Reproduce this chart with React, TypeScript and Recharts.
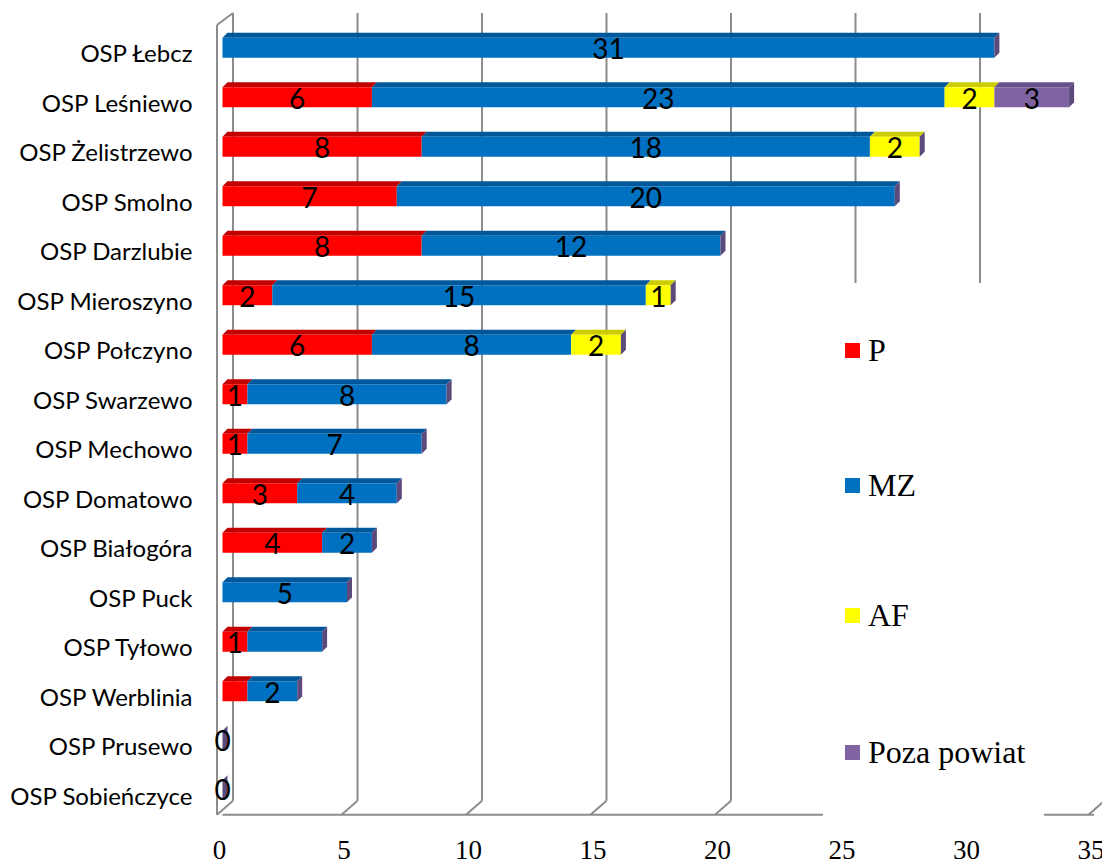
import { BarChart, Bar, XAxis, YAxis, CartesianGrid, LabelList, Legend } from 'recharts';

const categories = [
  'OSP Łebcz', 'OSP Leśniewo', 'OSP Żelistrzewo', 'OSP Smolno', 'OSP Darzlubie',
  'OSP Mieroszyno', 'OSP Połczyno', 'OSP Swarzewo', 'OSP Mechowo', 'OSP Domatowo',
  'OSP Białogóra', 'OSP Puck', 'OSP Tyłowo', 'OSP Werblinia', 'OSP Prusewo', 'OSP Sobieńczyce',
];
const pValues = [0, 6, 8, 7, 8, 2, 6, 1, 1, 3, 4, 0, 1, 1, 0, 0];
const mzValues = [31, 23, 18, 20, 12, 15, 8, 8, 7, 4, 2, 5, 3, 2, 0, 0];
const afValues = [0, 2, 2, 0, 0, 1, 2, 0, 0, 0, 0, 0, 0, 0, 0, 0];
const pozaValues = [0, 3, 0, 0, 0, 0, 0, 0, 0, 0, 0, 0, 0, 0, 0, 0];
const xTicks = [0, 5, 10, 15, 20, 25, 30, 35];
// labels that are not shown in the original
const hiddenLabels = [['OSP Tyłowo', 'MZ'], ['OSP Werblinia', 'P']];

const series = [
  { key: 'P', name: 'P', fill: '#FF0000', top: '#C20000' },
  { key: 'MZ', name: 'MZ', fill: '#0070C0', top: '#00579A' },
  { key: 'AF', name: 'AF', fill: '#FFFF00', top: '#CCCC00' },
  { key: 'Poza', name: 'Poza powiat', fill: '#8064A2', top: '#67518A' },
];

const data = categories.map((name, i) => ({
  name, P: pValues[i], MZ: mzValues[i], AF: afValues[i], Poza: pozaValues[i],
}));

const D = 5; // 3d depth
const SIDE = '#5B4A7B';
const GRID = '#8C8C8C';
const sans = 'Lato, "Open Sans", sans-serif';
const serif = '"Liberation Serif", "Times New Roman", serif';

function makeShape(top: string, withSide: boolean) {
  return (props: any) => {
    const { x, y, width, height, fill } = props;
    if (x == null || y == null) return <g />;
    const w = Math.max(0, width || 0);
    return (
      <g>
        <polygon points={`${x},${y} ${x + D},${y - D} ${x + w + D},${y - D} ${x + w},${y}`} fill={top} />
        <rect x={x} y={y} width={w} height={height} fill={fill} />
        {withSide && (
          <polygon
            points={`${x + w},${y} ${x + w + D},${y - D} ${x + w + D},${y + height - D} ${x + w},${y + height}`}
            fill={SIDE}
          />
        )}
      </g>
    );
  };
}

function makeLabel(key: string) {
  return (props: any) => {
    const { x, y, width, height, value, index } = props;
    const row = data[index];
    if (!row) return null;
    const total = row.P + row.MZ + row.AF + row.Poza;
    const zeroRow = key === 'P' && total === 0;
    if (!zeroRow && (!value || hiddenLabels.some(([c, k]) => c === row.name && k === key))) return null;
    return (
      <text x={x + width / 2} y={y + height / 2 + (zeroRow ? 10 : 11.5)} textAnchor="middle"
        fontFamily={sans} fontSize={28} fill="#000">
        {value}
      </text>
    );
  };
}

function CategoryTick({ x, y, payload }: any) {
  return (
    <text x={x - 30} y={y + 14.5} textAnchor="end" fontFamily={sans} fontSize={24} fill="#000">
      {payload.value}
    </text>
  );
}

function ValueTick({ x, y, payload }: any) {
  return (
    <text x={x - 3} y={y + 44} textAnchor="middle" fontFamily={serif} fontSize={27} fill="#000">
      {payload.value}
    </text>
  );
}

function GridLine(props: any) {
  const { x1, y1, y2, index } = props;
  const bx = x1 + 10.5;
  const topY = y1 - 9.75;
  const botY = y2 - 14;
  return (
    <g key={`g-${index}`}>
      <line x1={bx} y1={topY} x2={bx} y2={botY} stroke={GRID} strokeWidth={2} />
      <line x1={bx} y1={botY} x2={bx - 16} y2={y2} stroke={GRID} strokeWidth={2} />
      {index === 0 && (
        <>
          <line x1={x1 - 5.5} y1={topY + 12} x2={x1 - 5.5} y2={y2} stroke={GRID} strokeWidth={2} />
          <line x1={x1 - 5.5} y1={topY + 12} x2={bx} y2={topY} stroke={GRID} strokeWidth={2} />
        </>
      )}
    </g>
  );
}

function LegendBox() {
  const centers = [67, 202, 332, 469];
  return (
    <div style={{ position: 'relative', width: 221, height: 537, background: '#fff' }}>
      {series.map((s, i) => (
        <div key={s.key} style={{ position: 'absolute', left: 22, top: centers[i] - 20, height: 40, display: 'flex', alignItems: 'center' }}>
          <div style={{ width: 15, height: 15, background: s.fill, marginRight: 8 }} />
          <span style={{ fontFamily: serif, fontSize: 32, color: '#000', lineHeight: '40px' }}>{s.name}</span>
        </div>
      ))}
    </div>
  );
}

export default function App() {
  return (
    <div style={{ marginTop: -8, marginLeft: -8, width: 1110, height: 866, background: '#fff' }}>
      <BarChart
        width={1110}
        height={866}
        data={data}
        layout="vertical"
        barSize={20}
        margin={{ top: 22.75, right: 16, left: 0, bottom: 21.25 }}
      >
        <CartesianGrid horizontal={false} vertical={GridLine} />
        <XAxis
          type="number"
          domain={[0, 35]}
          ticks={xTicks}
          height={30}
          tickSize={0}
          tickMargin={0}
          tickLine={false}
          axisLine={{ stroke: GRID, strokeWidth: 2 }}
          tick={ValueTick}
        />
        <YAxis
          type="category"
          dataKey="name"
          width={222.5}
          tickSize={0}
          tickMargin={0}
          tickLine={false}
          axisLine={false}
          interval={0}
          tick={CategoryTick}
        />
        <Legend
          layout="vertical"
          align="center"
          verticalAlign="middle"
          wrapperStyle={{ left: 823, top: 283, width: 221, height: 537 }}
          content={LegendBox}
        />
        {series.map((s, i) => (
          <Bar
            key={s.key}
            dataKey={s.key}
            name={s.name}
            stackId="a"
            fill={s.fill}
            isAnimationActive={false}
            shape={makeShape(s.top, i === series.length - 1)}
          >
            <LabelList dataKey={s.key} content={makeLabel(s.key)} />
          </Bar>
        ))}
      </BarChart>
    </div>
  );
}
